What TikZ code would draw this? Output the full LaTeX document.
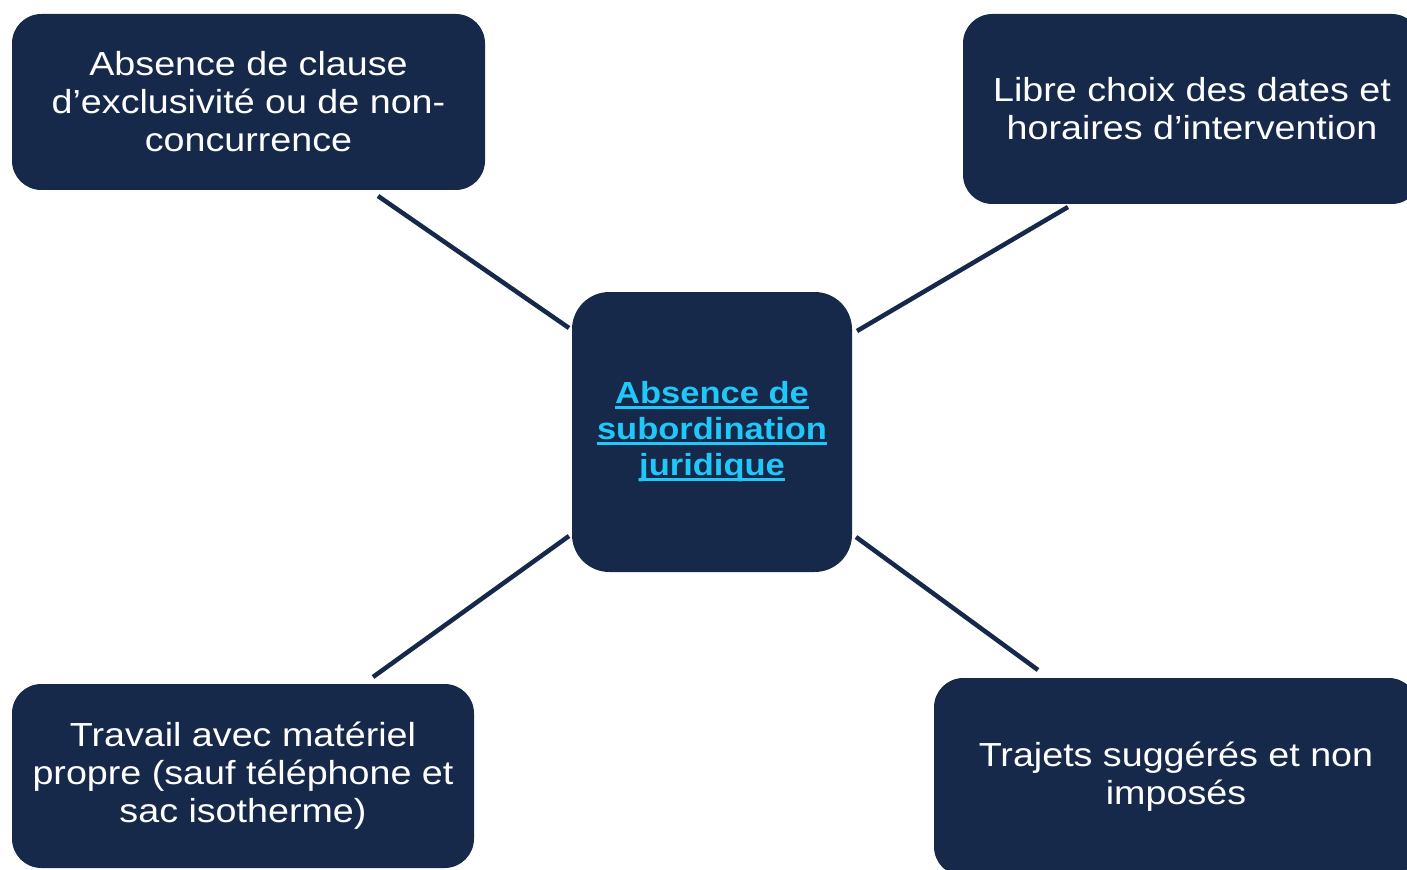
\documentclass[tikz,border=0pt]{standalone}
\usepackage{fontspec}
\setmainfont{Liberation Sans}[FakeStretch=1.13]
\definecolor{navy}{RGB}{22,41,74}
\definecolor{skyc}{RGB}{32,200,250}
\newcommand\myuline[1]{\setbox0\hbox{#1}\leavevmode\rlap{\rule[-3.8pt]{\wd0}{1.9pt}}\box0}
\begin{document}
\begin{tikzpicture}[x=0.75pt,y=-0.75pt,
  box/.style={fill=navy, rounded corners=22pt, inner sep=0pt, align=center,
    text=white, font=\fontsize{25pt}{28.5pt}\selectfont},
  hub/.style={fill=navy, rounded corners=28pt, inner sep=0pt, align=center,
    text=skyc, font=\bfseries\fontsize{22.9pt}{27pt}\selectfont,
    minimum width=210pt, minimum height=210pt},
  link/.style={draw=navy, line width=3.4pt}]
\useasboundingbox (0,0) rectangle (1407,870);
\node[hub] (C) at (712,432) {\myuline{Absence de}\\\myuline{subordination}\\\myuline{juridique}};
\node[box, minimum width=354.75pt, minimum height=132pt] (TL) at (248.5,102)
  {Absence de clause\\d’exclusivité ou de non-\\concurrence};
\node[box, minimum width=343.5pt, minimum height=142.5pt] (TR) at (1192,109)
  {Libre choix des dates et\\horaires d’intervention};
\node[box, minimum width=346.5pt, minimum height=138pt] (BL) at (243,776)
  {Travail avec matériel\\propre (sauf téléphone et\\sac isotherme)};
\node[box, minimum width=363pt, minimum height=148.5pt] (BR) at (1176,777)
  {Trajets suggérés et non\\imposés};
\coordinate (a1) at (378,196); \coordinate (b1) at (569,328);
\coordinate (a2) at (1068,207); \coordinate (b2) at (857,331);
\coordinate (a3) at (373,677); \coordinate (b3) at (569,536);
\coordinate (a4) at (1038,670); \coordinate (b4) at (856,537);
\draw[link] (a1) -- (b1);
\draw[link] (a2) -- (b2);
\draw[link] (a3) -- (b3);
\draw[link] (a4) -- (b4);
\end{tikzpicture}
\end{document}
